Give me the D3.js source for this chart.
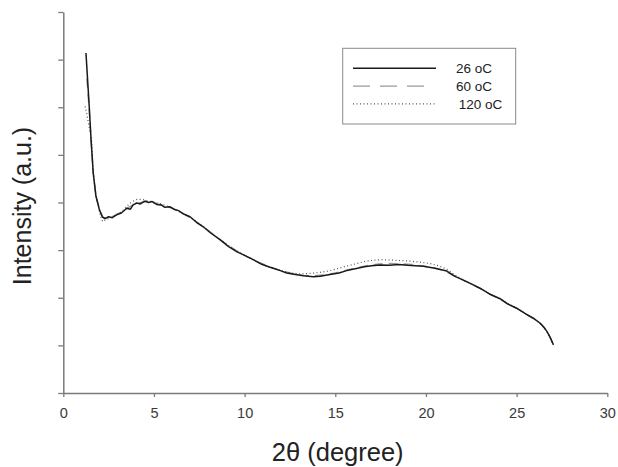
<head>
    <script src="https://d3js.org/d3.v7.min.js"></script>
    <style>
        body { margin: 0; background: #fff; }
        text { font-family: "Liberation Sans", Arial, sans-serif; }
    </style>
</head>

<body>
    <div id="graph"></div>
</body>
<script>

    // x ticks (2theta, degree) and y ticks (arbitrary units, unlabeled)
    const xTicks = [0, 5, 10, 15, 20, 25, 30]
    const yTicks = [0, 1, 2, 3, 4, 5, 6, 7, 8]
    const seriesNames = ['26 oC', '60 oC', '120 oC']

    // [2theta, intensity]
    const data26 = [
        [1.25, 7.14], [1.32, 6.7], [1.43, 6.02], [1.53, 5.32], [1.65, 4.62], [1.80, 4.13], [1.99, 3.85],
        [2.15, 3.70], [2.30, 3.66], [2.5, 3.70], [2.7, 3.68], [2.94, 3.74], [3.2, 3.78], [3.5, 3.88],
        [3.7, 3.86], [3.85, 3.95], [4.05, 3.99], [4.25, 3.97], [4.51, 4.03], [4.7, 4.0], [4.9, 4.02],
        [5.15, 3.96], [5.4, 3.95], [5.6, 3.90], [5.89, 3.91], [6.1, 3.86], [6.35, 3.83], [6.62, 3.76],
        [6.99, 3.70], [7.36, 3.58], [7.72, 3.49], [8.09, 3.37], [8.64, 3.22], [9.1, 3.08], [9.56, 2.97],
        [10.0, 2.89], [10.48, 2.80], [10.9, 2.71], [11.4, 2.64], [11.97, 2.57], [12.32, 2.52], [12.8, 2.49],
        [13.24, 2.46], [13.79, 2.44], [14.16, 2.45], [14.71, 2.49], [15.2, 2.52], [15.63, 2.57], [16.1, 2.61],
        [16.6, 2.65], [17.0, 2.67], [17.47, 2.69], [18.0, 2.68], [18.5, 2.70], [19.0, 2.68], [19.86, 2.66],
        [20.5, 2.62], [21.15, 2.56], [21.6, 2.45], [22.0, 2.38], [22.5, 2.29], [22.98, 2.20], [23.5, 2.08],
        [24.09, 1.98], [24.5, 1.87], [25.0, 1.78], [25.5, 1.66], [25.92, 1.57], [26.28, 1.47], [26.48, 1.39],
        [26.66, 1.30], [26.85, 1.17], [27.03, 1.01]
    ]

    const data60 = [
        [1.30, 6.60], [1.42, 6.0], [1.53, 5.33], [1.65, 4.64], [1.80, 4.15], [1.99, 3.86], [2.2, 3.68],
        [2.45, 3.67], [2.8, 3.72], [3.2, 3.80], [3.6, 3.90], [4.0, 3.98], [4.5, 4.02], [5.0, 3.99],
        [5.5, 3.94], [6.0, 3.88], [6.6, 3.77], [7.2, 3.63], [7.8, 3.47], [8.4, 3.29], [9.0, 3.12],
        [9.6, 2.97], [10.2, 2.85], [10.8, 2.74], [11.4, 2.65], [12.0, 2.57], [12.6, 2.51], [13.2, 2.47],
        [13.8, 2.46], [14.4, 2.48], [15.0, 2.52], [15.6, 2.58], [16.2, 2.63], [16.8, 2.68], [17.4, 2.71],
        [18.0, 2.72], [18.6, 2.71], [19.2, 2.70], [19.8, 2.67], [20.4, 2.63], [21.0, 2.57], [21.5, 2.47],
        [22.0, 2.38], [22.5, 2.29], [23.0, 2.19], [23.5, 2.08], [24.0, 1.99], [24.5, 1.87], [25.0, 1.78],
        [25.5, 1.66], [26.0, 1.55], [26.4, 1.43], [26.7, 1.29], [27.0, 1.03]
    ]

    const data120 = [
        [1.20, 6.02], [1.3, 5.85], [1.42, 5.6], [1.56, 5.32], [1.65, 4.62], [1.78, 4.2], [1.93, 3.92],
        [2.05, 3.72], [2.17, 3.60], [2.35, 3.64], [2.6, 3.68], [2.9, 3.74], [3.2, 3.80], [3.5, 3.92],
        [3.8, 4.02], [4.1, 4.07], [4.4, 4.06], [4.7, 4.03], [5.0, 4.01], [5.4, 3.97], [5.9, 3.90],
        [6.4, 3.81], [7.0, 3.69], [7.5, 3.56], [8.1, 3.38], [8.6, 3.24], [9.1, 3.10], [9.6, 2.98],
        [10.1, 2.87], [10.6, 2.77], [11.1, 2.68], [11.6, 2.62], [12.1, 2.56], [12.6, 2.52], [13.1, 2.50],
        [13.6, 2.51], [14.1, 2.53], [14.6, 2.56], [15.1, 2.61], [15.6, 2.66], [16.1, 2.71], [16.6, 2.76],
        [17.1, 2.79], [17.6, 2.80], [18.1, 2.79], [18.6, 2.78], [19.1, 2.77], [19.6, 2.75], [20.2, 2.72],
        [20.7, 2.67], [21.15, 2.60], [21.6, 2.48], [22.1, 2.36], [22.6, 2.27], [23.1, 2.17], [23.6, 2.06],
        [24.1, 1.97], [24.6, 1.86], [25.1, 1.76], [25.6, 1.64], [26.0, 1.55], [26.3, 1.46], [26.6, 1.33],
        [26.8, 1.20], [27.0, 1.03]
    ]

    const svg = d3.select('#graph').append('svg')
        .attr('width', 618)
        .attr('height', 467)

    const xScale = d3.scaleLinear()
        .domain([0, 30])
        .range([63.3, 607.3])

    const yScale = d3.scaleLinear()
        .domain([0, 8])
        .range([393, 12])

    const axisColor = '#7a7a7a'

    // x axis
    const xAxis = svg.append('g')
        .attr('transform', 'translate(0, 393)')
        .call(d3.axisBottom(xScale).tickValues(xTicks).tickSize(4).tickSizeOuter(0).tickPadding(11))
    xAxis.select('.domain').attr('stroke', axisColor).attr('stroke-width', 1.5)
    xAxis.selectAll('.tick line').attr('stroke', axisColor).attr('stroke-width', 1.3)
    xAxis.selectAll('.tick text')
        .attr('fill', '#3a3a3a')
        .style('font-size', '14.5px')
        .style('font-family', '"Liberation Sans", Arial, sans-serif')

    // y axis, no labels
    const yAxis = svg.append('g')
        .attr('transform', 'translate(63.3, 0)')
        .call(d3.axisLeft(yScale).tickValues(yTicks).tickSize(5).tickSizeOuter(0).tickFormat(''))
    yAxis.select('.domain').attr('stroke', axisColor).attr('stroke-width', 1.5)
    yAxis.selectAll('.tick line').attr('stroke', axisColor).attr('stroke-width', 1.3)

    // axis titles
    svg.append('text')
        .attr('x', 337.7)
        .attr('y', 461)
        .attr('text-anchor', 'middle')
        .attr('fill', '#222')
        .style('font-size', '25.5px')
        .text('2θ (degree)')

    svg.append('text')
        .attr('transform', 'translate(31, 206) rotate(-90)')
        .attr('text-anchor', 'middle')
        .attr('fill', '#222')
        .style('font-size', '25px')
        .text('Intensity (a.u.)')

    const line = d3.line()
        .x(d => xScale(d[0]))
        .y(d => yScale(d[1]))

    const styles = [
        { data: data26, stroke: '#1a1a1a', width: 1.5, dash: null },
        { data: data60, stroke: '#9a9a9a', width: 1.4, dash: '9,6' },
        { data: data120, stroke: '#555', width: 1.2, dash: '1,2.5' }
    ]

    // draw dashed and dotted first, solid on top
    ;[1, 2, 0].forEach(i => {
        const s = styles[i]
        svg.append('path')
            .datum(s.data)
            .attr('fill', 'none')
            .attr('stroke', s.stroke)
            .attr('stroke-width', s.width)
            .attr('stroke-dasharray', s.dash)
            .attr('stroke-linejoin', 'round')
            .attr('d', line)
    })

    // legend
    const legend = svg.append('g')
    legend.append('rect')
        .attr('x', 342.7)
        .attr('y', 48.3)
        .attr('width', 173)
        .attr('height', 75.7)
        .attr('fill', '#fff')
        .attr('stroke', '#8a8a8a')
        .attr('stroke-width', 1)

    seriesNames.forEach((name, i) => {
        const s = styles[i]
        const ly = 68.3 + i * 17.8
        legend.append('line')
            .attr('x1', 353)
            .attr('x2', i === 1 ? 426 : 436)
            .attr('y1', ly)
            .attr('y2', ly)
            .attr('stroke', s.stroke)
            .attr('stroke-width', s.width)
            .attr('stroke-dasharray', i === 1 ? '17,10' : s.dash)
        legend.append('text')
            .attr('x', i === 2 ? 458.7 : 456)
            .attr('y', ly + 5)
            .attr('fill', '#222')
            .style('font-size', '13.5px')
            .text(name)
    })

</script>
